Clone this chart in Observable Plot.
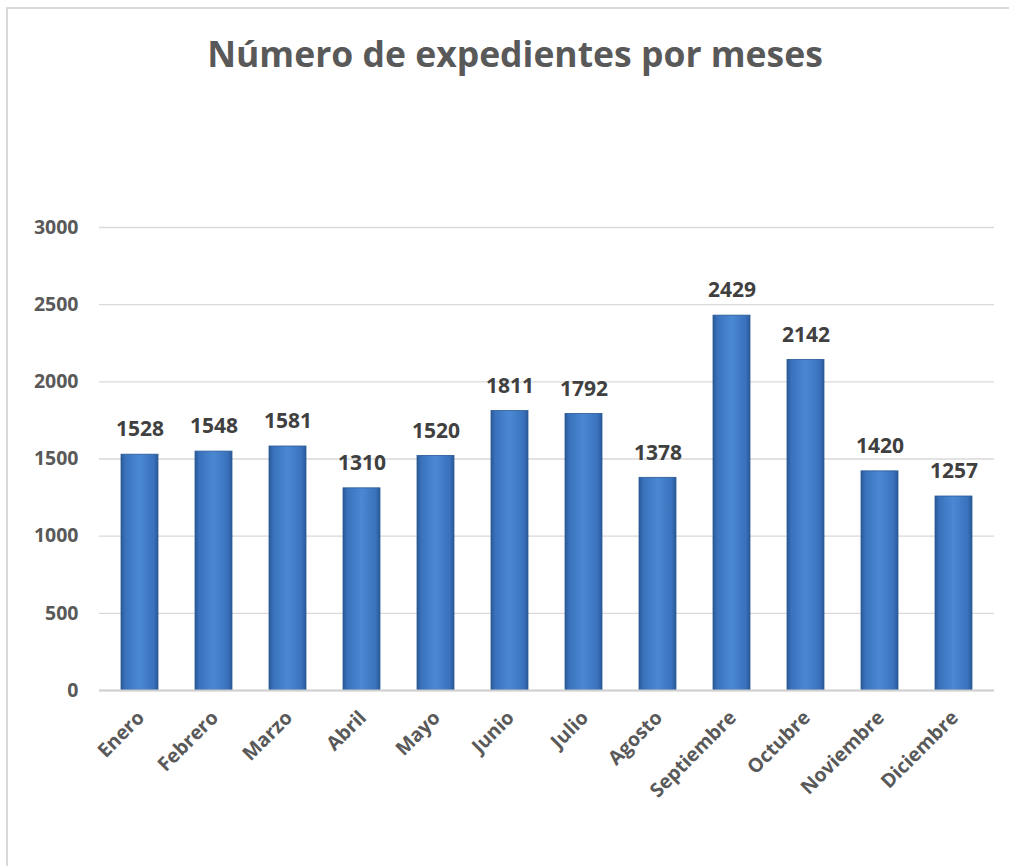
<!DOCTYPE html>
<html>
<head>
<meta charset="utf-8">
<script src="https://cdn.jsdelivr.net/npm/d3@7"></script>
<script src="https://cdn.jsdelivr.net/npm/@observablehq/plot@0.6"></script>
<style>
  html, body { margin: 0; padding: 0; background: #fff; }
  #wrap { position: relative; width: 1009px; height: 866px; overflow: hidden; }
  #frame { position: absolute; left: 6px; top: 7px; right: -5px; bottom: -5px;
           border-left: 2px solid #d9d9d9; border-top: 2px solid #d9d9d9; }
  #title { position: absolute; left: 8px; width: 1014px; top: 29px; text-align: center;
           font-family: "Open Sans", sans-serif; font-weight: 700; font-size: 35.5px; color: #595959; }
  #chart { position: absolute; left: 0; top: 0; }
</style>
</head>
<body>
<div id="wrap">
  <div id="frame"></div>
  <div id="chart"></div>
  <div id="title">Número de expedientes por meses</div>
</div>
<script>
const months = ["Enero","Febrero","Marzo","Abril","Mayo","Junio","Julio","Agosto","Septiembre","Octubre","Noviembre","Diciembre"];
const counts = [1528,1548,1581,1310,1520,1811,1792,1378,2429,2142,1420,1257];
const yTicks = [0,500,1000,1500,2000,2500,3000];

const data = months.map((m, i) => ({month: m, value: counts[i]}));

const chart = Plot.plot({
  width: 1009,
  height: 866,
  marginLeft: 99,
  marginRight: 15,
  marginTop: 227,
  marginBottom: 176,
  style: {fontFamily: "'Open Sans', sans-serif", background: "transparent", overflow: "visible"},
  x: {domain: months, paddingInner: 0.5, paddingOuter: 0.25, label: null},
  y: {domain: [0, 3000], label: null},
  marks: [
    Plot.gridY(yTicks, {stroke: "#d9d9d9", strokeOpacity: 1, strokeWidth: 1.3}),
    Plot.barY(data, {x: "month", y: "value", fill: "url(#barGrad)", stroke: "#2b5a96", strokeWidth: 0.8}),
    Plot.tickY(data, {x: "month", y: "value", stroke: "url(#bevelGrad)", strokeWidth: 8, dy: 4.5, inset: 1.5}),
    Plot.ruleY([0], {stroke: "#d0d0d0", strokeWidth: 2}),
    Plot.text(data, {x: "month", y: "value", text: d => String(d.value), dy: -25,
      fontSize: 21, fontWeight: 700, fill: "#404040"}),
    Plot.axisY(yTicks, {tickSize: 0, tickPadding: 21, tickFormat: "d", fontSize: 19.5, fontWeight: 700, fill: "#595959", label: null}),
    Plot.axisX({tickSize: 0, tickRotate: -45, tickPadding: 24, dx: 1, fontSize: 19.5, fontWeight: 700, fill: "#595959", label: null})
  ]
});

const defs = d3.create("svg:defs");
const g = defs.append("linearGradient").attr("id", "barGrad").attr("x1", "0").attr("x2", "1").attr("y1", "0").attr("y2", "0");
[["0%","#2a5a98"],["12%","#3a72bc"],["50%","#4a88d4"],["88%","#3a72bc"],["100%","#2a5a98"]]
  .forEach(([o, c]) => g.append("stop").attr("offset", o).attr("stop-color", c));
const b = defs.append("linearGradient").attr("id", "bevelGrad").attr("x1", "0").attr("x2", "1").attr("y1", "0").attr("y2", "0");
[["0%","#3f78c0"],["20%","#5c9be2"],["50%","#66a5ea"],["80%","#5c9be2"],["100%","#3f78c0"]]
  .forEach(([o, c]) => b.append("stop").attr("offset", o).attr("stop-color", c));
chart.insertBefore(defs.node(), chart.firstChild);

document.getElementById("chart").appendChild(chart);
</script>
</body>
</html>
